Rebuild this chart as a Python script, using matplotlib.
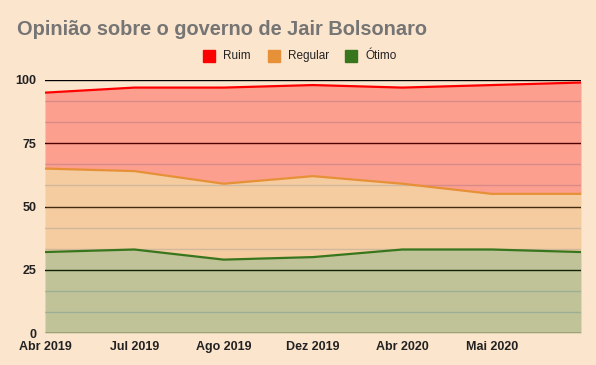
import matplotlib
matplotlib.use("Agg")
import matplotlib.pyplot as plt
import numpy as np
from matplotlib.patches import Rectangle

plt.rcParams['font.family'] = ['Liberation Sans', 'DejaVu Sans']

categories = ["Abr 2019", "Jul 2019", "Ago 2019", "Dez 2019", "Abr 2020", "Mai 2020", ""]
otimo = [32, 33, 29, 30, 33, 33, 32]
regular = [33, 31, 30, 32, 26, 22, 23]
ruim = [30, 33, 38, 36, 38, 43, 44]

bg = "#FCE5CD"
c_ruim, c_reg, c_oti = "#FF0000", "#E69138", "#38761D"

W, H = 596, 365
fig = plt.figure(figsize=(W / 100, H / 100), dpi=100, facecolor=bg)
ax = fig.add_axes([45 / W, 1 - 333 / H, (581 - 45) / W, (333 - 80) / H])
ax.set_facecolor(bg)

x = np.arange(len(categories))
o = np.array(otimo, float)
r = o + np.array(regular, float)
t = r + np.array(ruim, float)

# gridlines
for v in np.arange(0, 100.01, 25 / 3):
    major = abs(v / 25 - round(v / 25)) < 1e-6
    ax.axhline(v, color="#000000" if major else "#C8C8C8", lw=1.0, zorder=1)

ax.fill_between(x, 0, o, color=c_oti, alpha=0.3, lw=0, zorder=2)
ax.fill_between(x, o, r, color=c_reg, alpha=0.3, lw=0, zorder=2)
ax.fill_between(x, r, t, color=c_ruim, alpha=0.3, lw=0, zorder=2)
ax.plot(x, o, color=c_oti, lw=1.6, zorder=3)
ax.plot(x, r, color=c_reg, lw=1.6, zorder=3)
ax.plot(x, t, color=c_ruim, lw=1.6, zorder=3)

ax.set_xlim(0, len(categories) - 1)
ax.set_ylim(0, 100)
for s in ax.spines.values():
    s.set_visible(False)
ax.set_yticks([0, 25, 50, 75, 100])
ax.set_xticks(x[:-1])
ax.set_xticklabels(categories[:-1])
ax.tick_params(length=0, labelsize=9)
ax.tick_params(axis='x', pad=6)
ax.tick_params(axis='y', pad=6)
for lab in ax.get_xticklabels() + ax.get_yticklabels():
    lab.set_fontweight("bold")
    lab.set_color("#222222")

fig.text(17 / W, 1 - 35 / H, "Opinião sobre o governo de Jair Bolsonaro",
         fontsize=14.4, fontweight="bold", color="#757575", ha="left", va="baseline")

# legend
items = [("Ruim", c_ruim, 203), ("Regular", c_reg, 268), ("Ótimo", c_oti, 345)]
for name, col, px in items:
    fig.patches.append(Rectangle((px / W, 1 - 62 / H), 12 / W, 12 / H,
                                 transform=fig.transFigure, color=col))
    fig.text((px + 20) / W, 1 - 56 / H, name, fontsize=8.5, color="#222222",
             ha="left", va="center")

fig.savefig("out.png", dpi=100, facecolor=bg)
